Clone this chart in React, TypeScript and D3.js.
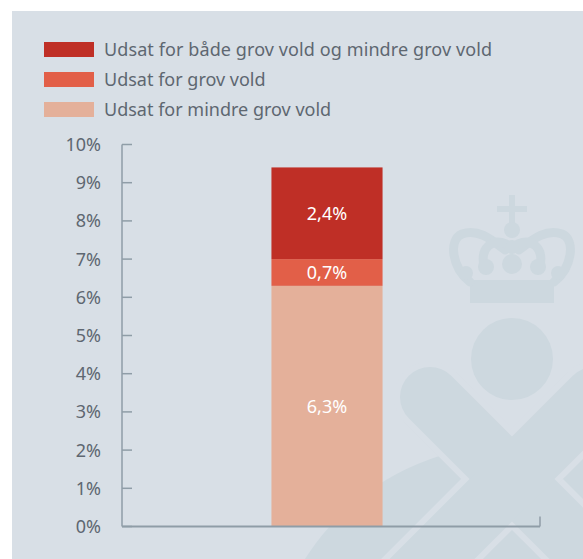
import React from 'react';
import * as d3 from 'd3';

// data
const categories = ['I alt'];
const seriesKeys = ['mindre', 'grov', 'begge'];
const seriesLabels = [
  'Udsat for både grov vold og mindre grov vold',
  'Udsat for grov vold',
  'Udsat for mindre grov vold',
];
const legendKeys = ['begge', 'grov', 'mindre'];
const mindreValues = [6.3];
const grovValues = [0.7];
const beggeValues = [2.4];
const yTicks = [0, 1, 2, 3, 4, 5, 6, 7, 8, 9, 10];

const colors: Record<string, string> = {
  begge: '#bf2f26',
  grov: '#e25f48',
  mindre: '#e4b09a',
};

const W = 583;
const H = 559;
const BG = '#d8dfe6';
const MARK = '#cdd8df';
const TEXT = '#5e6771';
const AXIS = '#8f9da7';
const FONT = '"Noto Sans", sans-serif';

const Watermark = () => (
  <g fill={MARK}>
    {/* big round shape at the bottom */}
    <circle cx={512} cy={690} r={245} />
    {/* crossed batons with light halo */}
    <g stroke={BG} strokeWidth={72} strokeLinecap="round">
      <line x1={430} y1={397} x2={680} y2={647} />
      <line x1={594} y1={397} x2={344} y2={647} />
    </g>
    <g stroke={MARK} strokeWidth={60} strokeLinecap="round">
      <line x1={430} y1={397} x2={680} y2={647} />
      <line x1={594} y1={397} x2={344} y2={647} />
    </g>
    {/* head */}
    <circle cx={512} cy={359} r={41} />
    {/* crown */}
    <rect x={470} y={280} width={84} height={23} />
    <rect x={509} y={195} width={6} height={30} />
    <rect x={497} y={206} width={30} height={6} />
    <circle cx={512} cy={230} r={8} />
    <g fill="none" stroke={MARK} strokeWidth={9} strokeLinecap="round">
      <path d="M470 282 C452 268 448 240 462 234 C478 228 492 240 505 250" />
      <path d="M554 282 C572 268 576 240 562 234 C546 228 532 240 519 250" />
      <path d="M484 266 C480 248 492 238 506 244" />
      <path d="M540 266 C544 248 532 238 518 244" />
    </g>
    <circle cx={512} cy={247} r={7} />
    <circle cx={512} cy={264} r={10} />
    <circle cx={486} cy={267} r={8} />
    <circle cx={538} cy={267} r={8} />
    <circle cx={466} cy={273} r={7} />
    <circle cx={558} cy={273} r={7} />
  </g>
);

export default function App() {
  const rows = categories.map((c, i) => ({
    category: c,
    mindre: mindreValues[i],
    grov: grovValues[i],
    begge: beggeValues[i],
  }));
  const stacked = d3.stack<any>().keys(seriesKeys)(rows);

  const y = d3.scaleLinear().domain([0, 10]).range([526.5, 144.5]);
  const x = d3
    .scaleBand()
    .domain(categories)
    .range([118, 536])
    .paddingInner(0.58)
    .paddingOuter(0.58);

  const axisLeft = 122;
  const axisRight = 540;
  const fmt = (v: number) => `${v.toFixed(1).replace('.', ',')}%`;

  return (
    <svg width={W} height={H} style={{ display: 'block', position: 'absolute', left: 0, top: 0 }}>
      <rect x={0} y={0} width={W} height={H} fill="#ffffff" />
      <rect x={12} y={11} width={W - 12} height={H - 11} fill={BG} />
      <Watermark />

      {/* legend */}
      <g fontFamily={FONT} fontSize={18} fill={TEXT}>
        {legendKeys.map((k, i) => (
          <g key={k} transform={`translate(44, ${42 + i * 30})`}>
            <rect width={50} height={15} fill={colors[k]} />
            <text x={60} y={14} textLength={i === 0 ? 388 : undefined}>
              {seriesLabels[i]}
            </text>
          </g>
        ))}
      </g>

      {/* bars */}
      {stacked.map((s) =>
        s.map((d, j) => (
          <rect
            key={s.key + j}
            x={x(categories[j])}
            width={x.bandwidth()}
            y={y(d[1])}
            height={y(d[0]) - y(d[1])}
            fill={colors[s.key]}
          />
        ))
      )}
      {stacked.map((s) =>
        s.map((d, j) => (
          <text
            key={'l' + s.key + j}
            x={(x(categories[j]) as number) + x.bandwidth() / 2}
            y={(y(d[0]) + y(d[1])) / 2 + 7}
            textAnchor="middle"
            fontFamily={FONT}
            fontSize={18}
            fill="#ffffff"
          >
            {fmt(d.data[s.key])}
          </text>
        ))
      )}

      {/* y axis */}
      <line x1={axisLeft} x2={axisLeft} y1={y(10)} y2={y(0)} stroke={AXIS} strokeWidth={1.5} />
      {yTicks.map((t) => (
        <g key={t}>
          <line x1={axisLeft} x2={axisLeft + 10} y1={y(t)} y2={y(t)} stroke={AXIS} strokeWidth={1.5} />
          <text
            x={101}
            y={y(t) + 6.5}
            textAnchor="end"
            fontFamily={FONT}
            fontSize={18}
            fill={TEXT}
          >
            {t}%
          </text>
        </g>
      ))}

      {/* x axis */}
      <line x1={axisLeft} x2={axisRight} y1={y(0)} y2={y(0)} stroke={AXIS} strokeWidth={2} />
      <line x1={axisRight} x2={axisRight} y1={y(0)} y2={y(0) - 10} stroke={AXIS} strokeWidth={1.5} />
    </svg>
  );
}
